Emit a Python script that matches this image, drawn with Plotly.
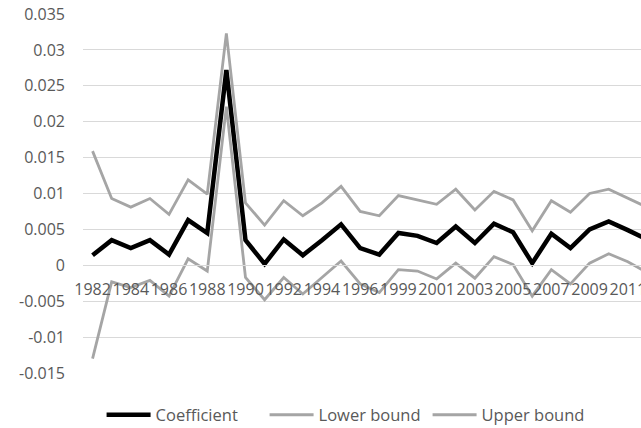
import plotly.graph_objects as go

years = ["1982", "1983", "1984", "1985", "1986", "1987", "1988", "1989", "1990", "1991",
         "1992", "1993", "1994", "1995", "1996", "1997", "1999", "2000", "2001", "2002",
         "2003", "2004", "2005", "2006", "2007", "2008", "2009", "2010", "2011", "2012"]

coefficient = [0.0014, 0.0035, 0.0024, 0.0035, 0.0015, 0.0063, 0.0045, 0.0272, 0.0035, 0.0002,
               0.0036, 0.0014, 0.0035, 0.0057, 0.0024, 0.0015, 0.0045, 0.0041, 0.0031, 0.0054,
               0.0031, 0.0058, 0.0046, 0.0003, 0.0044, 0.0024, 0.0050, 0.0061, 0.0049, 0.0036]

lower_bound = [-0.0130, -0.0023, -0.0031, -0.0021, -0.0043, 0.0009, -0.0008, 0.0221, -0.0017, -0.0048,
               -0.0017, -0.0040, -0.0017, 0.0006, -0.0026, -0.0038, -0.0006, -0.0008, -0.0019, 0.0003,
               -0.0018, 0.0012, 0.0001, -0.0043, -0.0006, -0.0026, 0.0003, 0.0016, 0.0005, -0.0010]

upper_bound = [0.0159, 0.0093, 0.0081, 0.0093, 0.0071, 0.0119, 0.0099, 0.0323, 0.0087, 0.0056,
               0.0090, 0.0069, 0.0087, 0.0110, 0.0075, 0.0069, 0.0097, 0.0091, 0.0085, 0.0106,
               0.0077, 0.0103, 0.0091, 0.0048, 0.0090, 0.0074, 0.0100, 0.0106, 0.0094, 0.0081]

y_tick_values = [-0.015, -0.01, -0.005, 0, 0.005, 0.01, 0.015, 0.02, 0.025, 0.03, 0.035]
y_tick_labels = ["-0.015", "-0.01", "-0.005", "0", "0.005", "0.01", "0.015", "0.02", "0.025", "0.03", "0.035"]
x_tick_labels = years[::2]

FONT = "Open Sans"
TEXT = "#595959"
GRAY = "#A5A5A5"

fig = go.Figure()
fig.add_trace(go.Scatter(x=years, y=coefficient, mode="lines", name="Coefficient",
                         line=dict(color="#000000", width=4.5)))
fig.add_trace(go.Scatter(x=years, y=lower_bound, mode="lines", name="Lower bound",
                         line=dict(color=GRAY, width=2.8)))
fig.add_trace(go.Scatter(x=years, y=upper_bound, mode="lines", name="Upper bound",
                         line=dict(color=GRAY, width=2.8)))

y_min, y_max = y_tick_values[0], y_tick_values[-1]

fig.update_layout(
    width=641, height=428,
    margin=dict(l=83, r=0, t=14, b=55, autoexpand=False),
    paper_bgcolor="white", plot_bgcolor="white",
    font=dict(family=FONT, size=16, color=TEXT),
    showlegend=True,
    legend=dict(orientation="h", x=0.0333, xanchor="left", y=-0.117, yanchor="middle",
                font=dict(family=FONT, size=16.5, color=TEXT), itemwidth=44,
                entrywidth=104, bgcolor="rgba(0,0,0,0)"),
    xaxis=dict(type="category", categoryorder="array", categoryarray=years,
               range=[-0.5, 28.69], tickmode="array", tickvals=x_tick_labels,
               ticktext=x_tick_labels, showgrid=False, zeroline=False,
               showline=True, linecolor="#D9D9D9", linewidth=1, ticks="",
               ticklabelstandoff=9, automargin=False,
               anchor="free", position=(0 - y_min) / (y_max - y_min),
               tickfont=dict(family=FONT, size=16, color=TEXT), tickangle=0),
    yaxis=dict(range=[y_min, y_max], domain=[0, 1], tickmode="array",
               tickvals=y_tick_values, ticktext=y_tick_labels,
               showgrid=True, gridcolor="#D9D9D9", gridwidth=1, zeroline=False,
               showline=False, ticks="", ticklabelstandoff=17, automargin=False,
               tickfont=dict(family=FONT, size=16, color=TEXT)),
)

fig.write_html("out.html", config={"displayModeBar": False},
               post_script="document.body.style.margin='0px';document.body.style.overflow='hidden';")
